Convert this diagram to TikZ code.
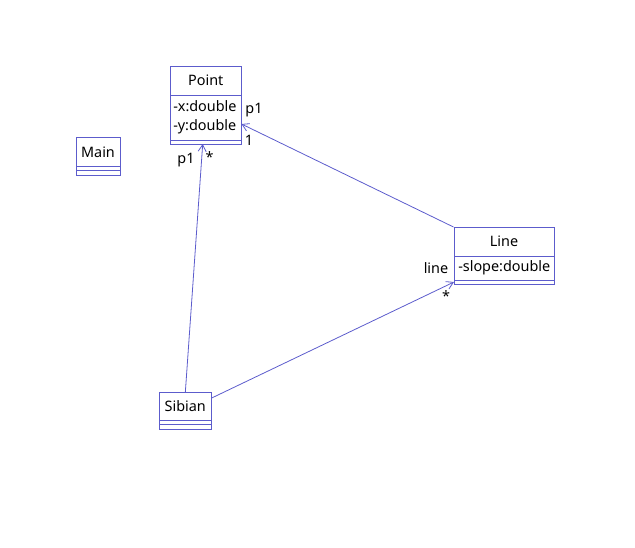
\documentclass[tikz,border=0pt]{standalone}
\usepackage{fontspec}
\setmainfont{Noto Sans}
\usetikzlibrary{arrows.meta,fit,calc}
\definecolor{umlblue}{RGB}{92,92,204}
\tikzset{
  classbox/.style={draw=umlblue, line width=0.75pt, inner sep=0pt, fit=#1},
  divider/.style={draw=umlblue, line width=0.75pt},
  txt/.style={font=\fontsize{10.8pt}{12pt}\selectfont, inner sep=0pt, text=black},
  assoc/.style={draw=umlblue, line width=0.6pt, -{Straight Barb[length=5pt,width=6pt]}},
}
\begin{document}
\begin{tikzpicture}[x=0.75pt,y=-0.75pt]
\useasboundingbox (0,0) rectangle (635,547);
% Point
\coordinate (p1a) at (170,66); \coordinate (p1b) at (241.5,144);
\node[classbox={(p1a)(p1b)}] (point) {};
\draw[divider] (170,95) -- (241.5,95);
\draw[divider] (170,140) -- (241.5,140);
\node[txt] (pointname) at (205.75,80) {Point};
\node[txt, anchor=west] (pointx) at (173,106) {-x:double};
\node[txt, anchor=west] (pointy) at (173,127) {-y:double};
% Main
\coordinate (m1a) at (76,137); \coordinate (m1b) at (120,175);
\node[classbox={(m1a)(m1b)}] (main) {};
\draw[divider] (76,166.7) -- (120,166.7);
\draw[divider] (76,170.7) -- (120,170.7);
\node[txt] (mainname) at (98,152) {Main};
% Line
\coordinate (l1a) at (454,227.5); \coordinate (l1b) at (554,284.7);
\node[classbox={(l1a)(l1b)}] (line) {};
\draw[divider] (454,256) -- (554,256);
\draw[divider] (454,280.7) -- (554,280.7);
\node[txt] (linename) at (504,241) {Line};
\node[txt, anchor=west] (lineslope) at (458,268) {-slope:double};
% Sibian
\coordinate (s1a) at (159,392.5); \coordinate (s1b) at (211.7,429.5);
\node[classbox={(s1a)(s1b)}] (sibian) {};
\draw[divider] (159,420.7) -- (211.7,420.7);
\draw[divider] (159,424.7) -- (211.7,424.7);
\node[txt] (sibianname) at (185.3,406) {Sibian};
% connectors
\coordinate (ptip1) at (202.7,144);
\coordinate (ptip2) at (241.5,124);
\coordinate (ltip) at (454,282);
\coordinate (sstart) at (211.7,398);
\draw[assoc] (sibian.north) -- (ptip1);
\draw[assoc] (line.north west) -- (ptip2);
\draw[assoc] (sstart) -- (ltip);
% role labels
\node[txt] (lp1a) at (254,110) {p1};
\node[txt] (lone) at (249,140) {1};
\node[txt] (lp1b) at (186,160) {p1};
\node[txt] (lstar1) at (209.5,157) {*};
\node[txt] (lline) at (436,268) {line};
\node[txt] (lstar2) at (446,296) {*};
\end{tikzpicture}
\end{document}
